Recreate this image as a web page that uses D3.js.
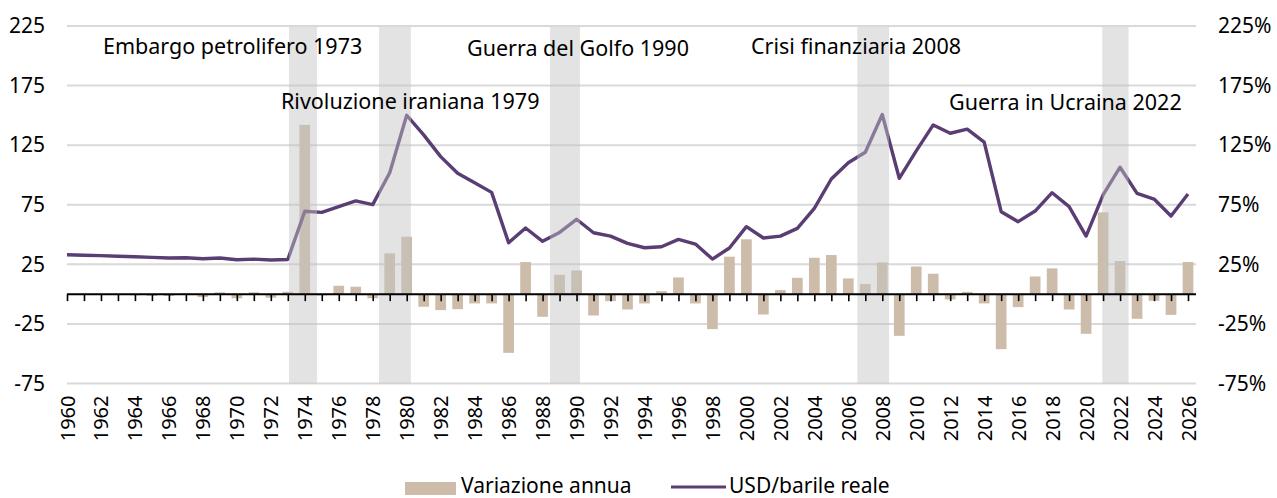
<!DOCTYPE html>
<html>
<head>
<meta charset="utf-8">
<script src="https://cdn.jsdelivr.net/npm/d3@7"></script>
<style>
  body { margin: 0; background: #fff; }
  svg text { font-family: "Noto Sans", sans-serif; fill: #000; }
</style>
</head>
<body>
<svg id="chart" width="1277" height="498"></svg>
<script>
// categories
const years = d3.range(1960, 2027);

// USD/barile reale (left axis)
const price = [
  33.0, 32.6, 32.3, 31.8, 31.4, 30.8, 30.3, 30.5, 29.7, 30.3,
  28.8, 29.4, 28.6, 29.1, 69.5, 68.6, 73.4, 78.2, 75.1, 101.9,
  150.1, 133.6, 115.4, 101.4, 93.5, 85.4, 43.1, 55.5, 44.3, 51.8,
  62.8, 51.5, 48.7, 42.6, 38.9, 39.8, 45.9, 42.0, 29.4, 38.7,
  56.6, 47.1, 48.7, 55.2, 72.0, 96.6, 110.2, 119.1, 150.7, 97.2,
  120.2, 142.0, 135.0, 138.4, 127.5, 69.2, 60.8, 69.7, 85.1, 73.4,
  48.7, 83.2, 106.5, 84.6, 79.8, 65.5, 84.0
];

// Variazione annua, % (right axis)
const change = [
  0, -0.5, -0.5, -0.8, -1, -1.5, -1.5, 0.5, -2.5, 1.5,
  -3.5, 1.5, -3, 2, 142, -1, 7.0, 6.2, -3.5, 34.2,
  48.2, -10.6, -13.4, -12.6, -7.8, -7.8, -49.3, 26.9, -19.0, 16.2,
  19.9, -17.9, -5.9, -12.9, -7.8, 2.5, 14.0, -7.8, -29.4, 31.4,
  46.0, -17.1, 3.4, 13.7, 30.5, 32.8, 13.2, 8.4, 26.6, -35.0,
  23.2, 17.1, -4.5, 1.9, -7.8, -46.2, -10.9, 14.8, 21.6, -12.9,
  -33.3, 68.6, 27.7, -20.7, -5.6, -17.4, 26.9
];

// shaded crisis periods (in years)
const bandStart = [1973.07, 1978.37, 1988.44, 2006.53, 2020.95];
const bandEnd   = [1974.72, 1980.25, 1990.20, 2008.40, 2022.50];
const bandLabels = [
  "Embargo petrolifero 1973",
  "Rivoluzione iraniana 1979",
  "Guerra del Golfo 1990",
  "Crisi finanziaria 2008",
  "Guerra in Ucraina 2022"
];

const leftTicks = [-75, -25, 25, 75, 125, 175, 225];
const rightTicks = [-75, -25, 25, 75, 125, 175, 225];

const seriesNames = ["Variazione annua", "USD/barile reale"];

const data = years.map((y, i) => ({ year: y, price: price[i], change: change[i] }));
const bands = bandStart.map((s, i) => ({ start: s, end: bandEnd[i], label: bandLabels[i] }));

const svg = d3.select("#chart");
const barColor = "#cdbcaa";
const lineColor = "#5a3d73";

const x = d3.scaleLinear().domain([1960, 2026]).range([67, 1188]);
const yLeft = d3.scaleLinear().domain([-75, 225]).range([383.5, 26]);
const yRight = d3.scaleLinear().domain([-75, 225]).range([383.5, 26]);
const step = x(1961) - x(1960);
const barW = step * 0.63;

// gridlines
svg.append("g")
  .selectAll("line")
  .data(leftTicks)
  .enter()
  .append("line")
  .attr("x1", 67)
  .attr("x2", 1196)
  .attr("y1", d => yLeft(d))
  .attr("y2", d => yLeft(d))
  .attr("stroke", "#d9d9d9")
  .attr("stroke-width", 2);

// bars
svg.append("g")
  .selectAll("rect")
  .data(data)
  .enter()
  .append("rect")
  .attr("x", d => x(d.year) - barW / 2)
  .attr("width", barW)
  .attr("y", d => yRight(Math.max(0, d.change)))
  .attr("height", d => Math.abs(yRight(d.change) - yRight(0)))
  .attr("fill", barColor);

// line
const line = d3.line()
  .x(d => x(d.year))
  .y(d => yLeft(d.price));

svg.append("path")
  .datum(data)
  .attr("d", line)
  .attr("fill", "none")
  .attr("stroke", lineColor)
  .attr("stroke-width", 3.4)
  .attr("stroke-linejoin", "round");

// shaded periods, drawn translucent on top
svg.append("g")
  .selectAll("rect")
  .data(bands)
  .enter()
  .append("rect")
  .attr("x", d => x(d.start))
  .attr("width", d => x(d.end) - x(d.start))
  .attr("y", 27)
  .attr("height", 383.5 - 27)
  .attr("fill", "rgb(194,194,194)")
  .attr("fill-opacity", 0.46);

// zero axis line with ticks
svg.append("line")
  .attr("x1", 67)
  .attr("x2", 1196)
  .attr("y1", yLeft(0))
  .attr("y2", yLeft(0))
  .attr("stroke", "#000")
  .attr("stroke-width", 2);

const gTicks = svg.append("g")
  .attr("transform", `translate(0, ${yLeft(0)})`)
  .call(d3.axisBottom(x).tickValues(years).tickSize(7).tickFormat(""));
gTicks.select(".domain").remove();
gTicks.selectAll(".tick line").attr("stroke", "#000").attr("stroke-width", 1.6);

// year labels
const gYears = svg.append("g")
  .attr("transform", `translate(0, ${yLeft(-75)})`)
  .call(d3.axisBottom(x)
    .tickValues(years.filter(y => y % 2 === 0))
    .tickSize(0)
    .tickFormat(d => String(d)));
gYears.select(".domain").remove();
gYears.selectAll("text")
  .attr("font-size", 20)
  .attr("font-family", "Noto Sans")
  .attr("fill", "#000")
  .attr("transform", "rotate(-90)")
  .attr("text-anchor", "end")
  .attr("x", -12)
  .attr("y", 0)
  .attr("dy", "0.35em");

// left axis
const gLeft = svg.append("g")
  .attr("transform", "translate(48, 0)")
  .call(d3.axisLeft(yLeft).tickValues(leftTicks).tickSize(0).tickPadding(3)
    .tickFormat(d => String(d)));
gLeft.select(".domain").remove();
gLeft.selectAll("text")
  .attr("font-size", 21)
  .attr("font-family", "Noto Sans")
  .attr("fill", "#000");

// right axis
const gRight = svg.append("g")
  .attr("transform", "translate(1215, 0)")
  .call(d3.axisRight(yRight).tickValues(rightTicks).tickSize(0).tickPadding(3)
    .tickFormat(d => String(d) + "%"));
gRight.select(".domain").remove();
gRight.selectAll("text")
  .attr("font-size", 21)
  .attr("font-family", "Noto Sans")
  .attr("fill", "#000");

// annotations
const labelPos = [
  { x: 103, y: 54 },
  { x: 281, y: 108.5 },
  { x: 467, y: 56 },
  { x: 751, y: 54 },
  { x: 949, y: 109.5 }
];
svg.append("g")
  .selectAll("text")
  .data(bands)
  .enter()
  .append("text")
  .attr("x", (d, i) => labelPos[i].x)
  .attr("y", (d, i) => labelPos[i].y)
  .attr("font-size", 21.5)
  .text(d => d.label);

// legend
const legend = svg.append("g");
legend.append("rect")
  .attr("x", 405).attr("y", 482)
  .attr("width", 51).attr("height", 13)
  .attr("fill", barColor);
legend.append("text")
  .attr("x", 461).attr("y", 493)
  .attr("font-size", 21)
  .text(seriesNames[0]);
legend.append("line")
  .attr("x1", 671).attr("x2", 726)
  .attr("y1", 487).attr("y2", 487)
  .attr("stroke", lineColor)
  .attr("stroke-width", 3);
legend.append("text")
  .attr("x", 729).attr("y", 493)
  .attr("font-size", 21)
  .text(seriesNames[1]);
</script>
</body>
</html>
